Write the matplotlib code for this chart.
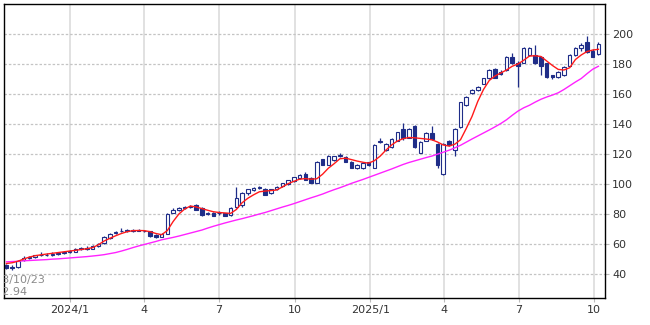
import pandas as pd
import matplotlib
matplotlib.use("Agg")
import matplotlib.pyplot as plt
import matplotlib.dates as mdates

# weekly candles, one per week starting 2023/10/16
weeks = pd.date_range("2023-10-16", periods=104, freq="7D")

opens = [46.0, 44.5, 44.5, 49.5, 50.5, 51.5, 52.5, 53.0, 52.5, 53.3,
         54.0, 54.7, 55.0, 57.0, 57.5, 57.0, 59.0, 60.5, 64.0, 67.5,
         68.5, 69.0, 68.8, 69.3, 69.0, 68.5, 66.0, 65.0, 67.0, 81.0,
         83.0, 84.3, 85.0, 86.0, 84.0, 80.0, 81.0, 80.5, 80.5, 79.5,
         85.0, 86.0, 94.0, 96.0, 97.5, 97.0, 94.0, 96.5, 98.5, 100.0,
         102.0, 104.0, 107.0, 104.0, 101.0, 116.5, 113.0, 116.0, 119.0, 118.0,
         115.0, 110.7, 110.7, 114.7, 111.0, 128.0, 123.0, 124.7, 129.0, 137.0,
         131.0, 139.0, 121.0, 129.0, 134.0, 127.0, 107.0, 129.0, 122.7, 138.0,
         153.0, 160.7, 162.7, 167.0, 170.7, 176.7, 174.5, 176.0, 185.0, 181.0,
         181.0, 186.0, 186.0, 185.0, 180.7, 172.7, 171.4, 172.7, 179.0, 186.0,
         190.5, 195.0, 189.0, 186.7]
highs = [47.0, 46.0, 49.5, 52.0, 52.0, 53.0, 54.5, 54.0, 54.5, 55.0,
         55.5, 56.0, 57.5, 58.0, 58.5, 59.5, 60.5, 65.5, 67.5, 69.0,
         70.5, 70.0, 69.8, 70.0, 69.5, 69.0, 66.5, 67.5, 81.0, 84.0,
         84.5, 85.5, 86.0, 86.5, 84.5, 81.5, 81.5, 82.0, 81.0, 84.5,
         98.0, 95.0, 97.0, 98.0, 99.0, 97.5, 97.0, 98.5, 101.0, 103.0,
         105.0, 106.5, 108.0, 104.5, 115.5, 117.0, 119.5, 119.0, 120.8, 118.5,
         115.5, 113.5, 114.5, 115.0, 126.5, 130.5, 127.5, 130.5, 135.0, 140.7,
         137.5, 139.5, 128.5, 134.5, 139.0, 127.5, 127.5, 129.5, 137.5, 155.0,
         158.5, 163.5, 165.5, 171.0, 176.5, 177.5, 176.0, 185.5, 187.5, 182.0,
         191.5, 191.5, 192.7, 185.5, 181.0, 173.0, 175.5, 178.5, 186.5, 191.5,
         194.0, 198.5, 190.0, 194.5]
lows = [43.5, 43.0, 44.0, 49.0, 50.0, 51.0, 52.0, 52.0, 52.3, 53.0,
        53.5, 54.0, 54.8, 56.0, 56.0, 56.5, 58.0, 60.0, 63.5, 67.0,
        68.0, 68.3, 68.0, 68.5, 67.8, 65.0, 64.0, 64.5, 66.5, 80.5,
        82.0, 83.5, 84.0, 82.5, 79.0, 79.5, 78.5, 79.5, 78.5, 79.0,
        84.0, 85.0, 93.0, 95.5, 97.0, 92.5, 93.5, 96.0, 98.0, 99.5,
        101.5, 103.5, 102.5, 100.5, 100.5, 112.5, 112.5, 115.5, 118.0, 114.5,
        110.5, 110.0, 110.0, 112.3, 110.5, 127.5, 122.0, 124.0, 128.5, 129.5,
        130.5, 124.0, 120.5, 128.5, 129.5, 110.7, 106.0, 125.5, 119.0, 137.5,
        152.0, 160.0, 162.0, 166.5, 170.0, 170.5, 173.0, 175.5, 180.0, 164.5,
        180.5, 185.5, 180.0, 172.7, 171.0, 170.0, 171.0, 172.0, 178.5, 185.5,
        189.0, 187.5, 184.5, 186.0]
closes = [44.0, 43.8, 48.5, 50.5, 51.5, 52.5, 53.0, 52.5, 53.3, 54.0,
          54.7, 55.0, 57.0, 57.2, 56.5, 59.0, 60.0, 65.0, 67.0, 68.3,
          69.0, 68.8, 69.3, 69.0, 68.5, 65.5, 64.8, 67.0, 80.0, 83.0,
          84.0, 85.0, 85.5, 83.0, 79.5, 81.0, 79.0, 81.0, 79.0, 84.0,
          91.0, 94.0, 96.5, 97.5, 98.0, 93.0, 96.5, 98.0, 100.5, 102.5,
          104.5, 106.0, 103.0, 101.0, 114.5, 113.0, 119.0, 118.5, 119.0, 115.0,
          111.0, 112.7, 114.0, 112.7, 126.0, 128.7, 127.0, 130.0, 134.7, 130.5,
          137.0, 124.7, 128.0, 134.0, 130.0, 112.7, 127.0, 126.0, 136.7, 154.7,
          158.0, 163.0, 165.0, 170.7, 176.0, 171.0, 173.5, 184.7, 181.0, 179.0,
          191.0, 191.0, 180.7, 179.0, 171.4, 171.4, 174.7, 178.0, 186.0, 190.7,
          192.5, 188.0, 184.7, 193.5]

# moving averages (short = red, long = magenta)
ma_short = [47.0, 47.5, 48.5, 50.0, 51.3, 52.2, 52.8, 53.3, 53.8, 54.3,
            54.8, 55.3, 55.8, 56.3, 56.9, 57.6, 59.5, 62.0, 63.8, 65.5,
            67.0, 68.2, 68.9, 69.0, 68.9, 68.2, 67.0, 66.2, 69.0, 75.0,
            80.0, 83.3, 85.3, 84.7, 83.6, 82.5, 81.5, 81.0, 80.7, 80.4,
            83.0, 87.5, 90.5, 92.8, 94.8, 95.3, 95.6, 96.0, 98.0, 100.2,
            101.8, 103.2, 103.6, 103.2, 103.5, 106.5, 110.5, 113.5, 116.8, 117.2,
            116.3, 115.3, 114.5, 113.9, 115.5, 118.5, 122.5, 126.0, 128.6, 130.2,
            131.0, 130.8, 130.4, 130.0, 129.5, 128.0, 126.0, 125.3, 126.5, 129.5,
            137.0, 145.0, 155.0, 163.0, 169.0, 172.0, 174.0, 176.0, 178.5, 180.0,
            182.5, 185.3, 185.5, 185.0, 182.0, 179.0, 176.4, 176.0, 177.5, 183.0,
            186.0, 188.3, 189.3, 189.8]
ma_long = [48.1, 48.3, 48.5, 48.8, 49.0, 49.2, 49.4, 49.6, 49.9, 50.1,
           50.4, 50.7, 51.0, 51.3, 51.6, 52.0, 52.4, 52.9, 53.6, 54.3,
           55.3, 56.4, 57.6, 58.7, 59.7, 60.7, 61.7, 62.8, 63.6, 64.4,
           65.3, 66.3, 67.3, 68.3, 69.3, 70.6, 71.8, 72.9, 74.0, 75.0,
           76.0, 76.9, 77.9, 78.9, 80.0, 81.0, 82.2, 83.4, 84.6, 85.7,
           86.9, 88.2, 89.5, 90.8, 92.0, 93.3, 94.8, 96.2, 97.5, 98.9,
           100.4, 101.7, 103.0, 104.4, 105.8, 107.2, 108.6, 110.0, 111.5, 113.0,
           114.3, 115.4, 116.5, 117.6, 118.6, 119.9, 121.2, 122.5, 124.1, 125.8,
           127.9, 130.0, 132.0, 134.0, 136.0, 138.1, 140.3, 142.8, 145.8, 148.6,
           150.8, 152.5, 154.6, 156.5, 158.0, 159.3, 160.8, 163.0, 165.5, 168.0,
           170.3, 173.5, 176.5, 178.5]

tick_dates = ["2024-01-01", "2024-04-01", "2024-07-01", "2024-10-01",
              "2025-01-01", "2025-04-01", "2025-07-01", "2025-10-01"]
tick_labels = ["2024/1", "4", "7", "10", "2025/1", "4", "7", "10"]
y_ticks = [40, 60, 80, 100, 120, 140, 160, 180, 200]

first_date = "2023/10/23"
first_price = "42.94"

candle_col = "#1f2d88"
x = mdates.date2num(weeks.to_pydatetime())

fig = plt.figure(figsize=(6.5, 3.25), dpi=100)
ax = fig.add_axes([4 / 650, 27 / 325, 601 / 650, 294 / 325])

# wicks
ax.vlines(x, lows, highs, color=candle_col, linewidth=0.9, zorder=2)

# bodies: hollow when up, filled when down
for xi, o, c in zip(x, opens, closes):
    bottom = min(o, c)
    height = max(abs(c - o), 0.4)
    face = "white" if c >= o else candle_col
    ax.bar(xi, height, bottom=bottom, width=4.3, color=face,
           edgecolor=candle_col, linewidth=0.8, zorder=2.5)

ax.plot(x, ma_long, color="#ff22ff", linewidth=1.0, zorder=3)
ax.plot(x, ma_short, color="#ff1a1a", linewidth=1.0, zorder=3.2)

ax.set_xlim(mdates.date2num(pd.Timestamp("2023-10-13")),
            mdates.date2num(pd.Timestamp("2025-10-14")))
ax.set_ylim(24, 220)

ax.set_xticks(mdates.date2num(pd.to_datetime(tick_dates).to_pydatetime()))
ax.set_xticklabels(tick_labels)
ax.set_yticks(y_ticks)
ax.yaxis.tick_right()

ax.grid(axis="x", color="#dcdcdc", linewidth=1.2, linestyle="-", zorder=0)
ax.grid(axis="y", color="#c4c4c4", linewidth=0.9, linestyle=(0, (2, 1.5)), zorder=0)
ax.set_axisbelow(True)

ax.tick_params(axis="both", labelsize=8, labelcolor="#333333",
               color="#bbbbbb", length=3, width=0.8, pad=2)
for s in ax.spines.values():
    s.set_color("black")
    s.set_linewidth(1.0)

# first candle info, cut off at the left border
ax.text(41 / 601, 15 / 294, first_date, transform=ax.transAxes, ha="right",
        va="baseline", fontsize=8, color="#8a8a8a", clip_on=True)
ax.text(24 / 601, 3 / 294, first_price, transform=ax.transAxes, ha="right",
        va="baseline", fontsize=8, color="#8a8a8a", clip_on=True)

fig.savefig("out.png", dpi=100)
